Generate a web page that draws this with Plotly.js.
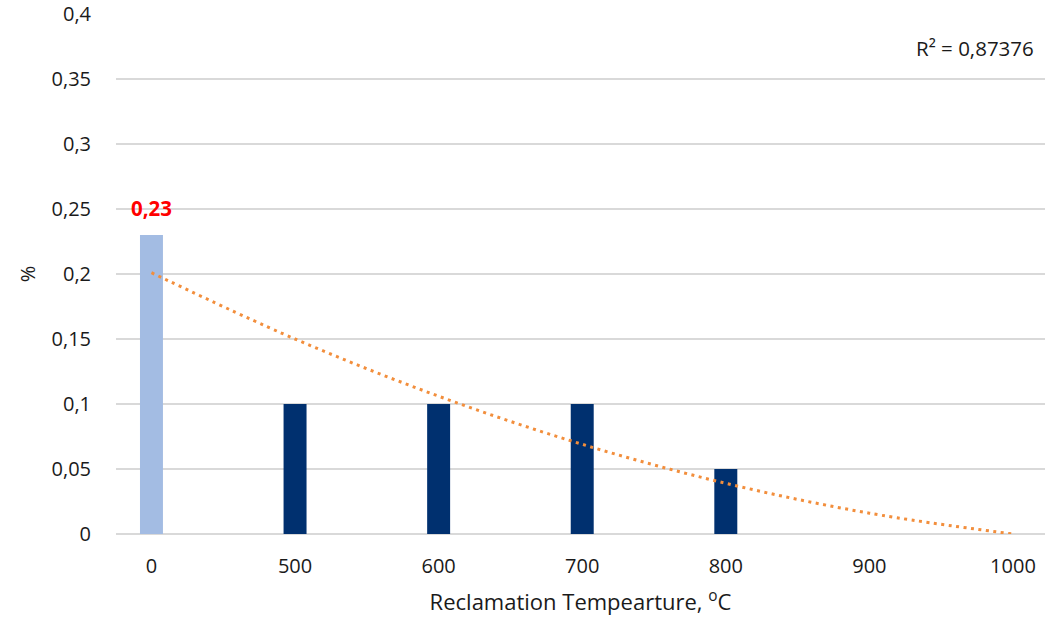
<!DOCTYPE html>
<html>
<head>
<meta charset="utf-8">
<script src="https://cdn.plot.ly/plotly-3.0.1.min.js"></script>
<style>html,body{margin:0;padding:0;background:#fff;}#chart{width:1045px;height:623px;}</style>
</head>
<body>
<div id="chart"></div>
<script>
var categories = ['0', '500', '600', '700', '800', '900', '1000'];
var values = [0.23, 0.1, 0.1, 0.1, 0.05, null, null];
var barColors = ['#A3BCE3', '#00306F', '#00306F', '#00306F', '#00306F', '#00306F', '#00306F'];
var trendValues = [0.201, 0.150, 0.106, 0.069, 0.039, 0.016, 0.0];
var yTicks = [0, 0.05, 0.1, 0.15, 0.2, 0.25, 0.3, 0.35, 0.4];
var yTickText = ['0', '0,05', '0,1', '0,15', '0,2', '0,25', '0,3', '0,35', '0,4'];
var labelIndex = 0;
var labelText = '0,23';
var r2Text = 'R² = 0,87376';

var FONT = '"Open Sans", sans-serif';

var traces = [
  {
    type: 'bar',
    x: categories,
    y: values,
    marker: {color: barColors},
    hoverinfo: 'x+y',
    showlegend: false
  },
  {
    type: 'scatter',
    mode: 'lines',
    x: categories,
    y: trendValues,
    line: {color: '#F28E3C', width: 3, dash: '3px,4.5px', shape: 'spline'},
    hoverinfo: 'skip',
    showlegend: false
  }
];

var layout = {
  width: 1045,
  height: 623,
  margin: {l: 116, r: 0, t: 14, b: 89},
  paper_bgcolor: '#ffffff',
  plot_bgcolor: '#ffffff',
  font: {family: FONT, size: 20, color: '#1a1a1a'},
  bargap: 0.84,
  showlegend: false,
  xaxis: {
    type: 'category',
    range: [-0.247, 6.223],
    showgrid: false,
    zeroline: false,
    showline: false,
    ticks: 'outside',
    ticklen: 14,
    tickcolor: 'rgba(0,0,0,0)',
    tickfont: {family: FONT, size: 20, color: '#1a1a1a'},
    title: {text: 'Reclamation Tempearture, <sup>o</sup>C', font: {family: FONT, size: 22, color: '#1a1a1a'}, standoff: 16}
  },
  yaxis: {
    range: [0, 0.4],
    tickvals: yTicks,
    ticktext: yTickText,
    showgrid: true,
    gridcolor: '#D9D9D9',
    gridwidth: 1.5,
    zeroline: true,
    zerolinecolor: '#D9D9D9',
    zerolinewidth: 1.5,
    showline: false,
    ticks: 'outside',
    ticklen: 20,
    tickcolor: 'rgba(0,0,0,0)',
    tickfont: {family: FONT, size: 20, color: '#1a1a1a'},
    title: {text: '%', font: {family: FONT, size: 20, color: '#1a1a1a'}, standoff: 10}
  },
  annotations: [
    {
      x: categories[labelIndex], y: values[labelIndex], xref: 'x', yref: 'y',
      text: '<b>' + labelText + '</b>', showarrow: false,
      yanchor: 'bottom', yshift: 11,
      font: {family: FONT, size: 20.5, color: '#FF0000'}
    },
    {
      x: 0.99, y: 0.935, xref: 'paper', yref: 'paper',
      xanchor: 'right', yanchor: 'middle',
      text: r2Text, showarrow: false,
      font: {family: FONT, size: 20.5, color: '#1a1a1a'}
    }
  ]
};

Plotly.newPlot('chart', traces, layout, {displayModeBar: false, staticPlot: true});
</script>
</body>
</html>
